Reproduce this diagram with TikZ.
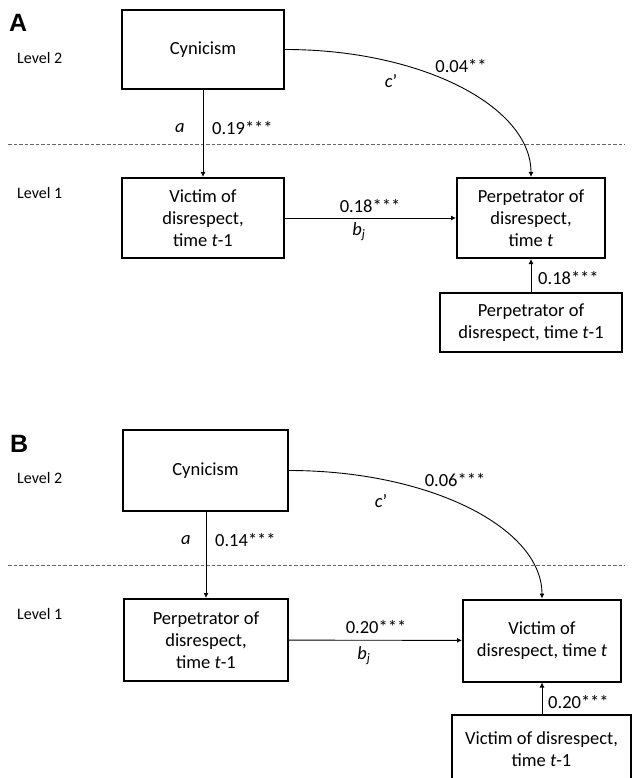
\documentclass[tikz,border=0pt]{standalone}
\usepackage{fontspec}
\setmainfont{Carlito}
\newfontfamily\panelfont{Liberation Sans}
\usetikzlibrary{arrows.meta}

\begin{document}
\begin{tikzpicture}[x=1pt,y=-1pt,
    box/.style={draw,line width=2pt,align=center,inner sep=0pt,
      font=\fontsize{18.5}{22}\selectfont},
    lvl/.style={anchor=west,inner sep=0pt,font=\fontsize{16}{19}\selectfont},
    coef/.style={inner sep=0pt,font=\fontsize{18.5}{22}\selectfont},
    panel/.style={anchor=base west,inner sep=0pt,
      font=\panelfont\bfseries\fontsize{25}{28}\selectfont},
    link/.style={line width=0.9pt,-{Latex[length=5pt,width=5pt]}},
    levelsep/.style={gray!80!black,line width=0.9pt,dash pattern=on 3.5pt off 2pt}]
  \useasboundingbox (0,0) rectangle (631,778);

  % panel A
  \node[panel] (A) at (9,32) {A};
  \node[lvl] (lvA2) at (17,58) {Level 2};
  \node[lvl] (lvA1) at (17,193) {Level 1};

  \coordinate (sepAl) at (8,144);
  \coordinate (sepAr) at (625,144);
  \draw[levelsep] (sepAl) -- (sepAr);

  \node[box,minimum width=162pt,minimum height=79pt] (cynA) at (203,49.5) {Cynicism};
  \node[box,minimum width=162pt,minimum height=80pt] (vicA) at (203,218)
    {Victim of\\disrespect,\\time \textit{t}-1};
  \node[box,minimum width=148pt,minimum height=80pt] (perA) at (531,218)
    {Perpetrator of\\disrespect,\\time \textit{t}};
  \node[box,minimum width=182pt,minimum height=59pt] (prevA) at (531,322.5)
    {Perpetrator of\\disrespect, time \textit{t}-1};

  \draw[link] (cynA) -- (vicA);
  \node[coef] (aA) at (180,128) {\textit{a}};
  \node[coef,anchor=west] (aAv) at (212,128) {0.19***};

  % quarter ellipse
  \draw[link] (cynA.east) .. controls +(136,0) and +(0,-71) .. (perA.north);
  \node[coef] (cA) at (391,81) {\textit{c}’};
  \node[coef] (cAv) at (461,66) {0.04**};

  \draw[link] (vicA) -- (perA);
  \node[coef] (bAv) at (370,206) {0.18***};
  \node[coef] (bA) at (359,232) {\textit{b}\textsubscript{\textit{j}}};

  \draw[link] (prevA) -- (perA);
  \node[coef,anchor=west] (pAv) at (538,278) {0.18***};

  % panel B
  \begin{scope}[yshift=-421pt]
  \node[panel] (B) at (10,31) {B};
  \node[lvl] (lvB2) at (17,57) {Level 2};
  \node[lvl] (lvB1) at (17,193) {Level 1};

  \coordinate (sepBl) at (8,144);
  \coordinate (sepBr) at (625,144);
  \draw[levelsep] (sepBl) -- (sepBr);

  \node[box,minimum width=165pt,minimum height=81pt] (cynB) at (205.5,49.5) {Cynicism};
  \node[box,minimum width=164pt,minimum height=82pt] (perB) at (206,219)
    {Perpetrator of\\disrespect,\\time \textit{t}-1};
  \node[box,minimum width=158pt,minimum height=82pt] (vicB) at (542,219.5)
    {Victim of\\disrespect, time \textit{t}};
  \node[box,minimum width=179pt,minimum height=68pt] (prevB) at (541.5,328)
    {Victim of disrespect,\\time \textit{t}-1};

  \draw[link] (cynB.south -| perB.north) -- (perB.north);
  \node[coef] (aB) at (186,119) {\textit{a}};
  \node[coef,anchor=west] (aBv) at (215,119) {0.14***};

  \draw[link] (cynB.east) .. controls +(140,0) and +(0,-71) .. (vicB.north);
  \node[coef] (cB) at (381,80) {\textit{c}’};
  \node[coef] (cBv) at (455,59) {0.06***};

  \draw[link] (perB) -- (vicB);
  \node[coef] (bBv) at (376,206) {0.20***};
  \node[coef] (bB) at (364,235) {\textit{b}\textsubscript{\textit{j}}};

  \draw[link] (prevB.north -| vicB.south) -- (vicB.south);
  \node[coef,anchor=west] (pBv) at (548,281) {0.20***};
  \end{scope}
\end{tikzpicture}
\end{document}
